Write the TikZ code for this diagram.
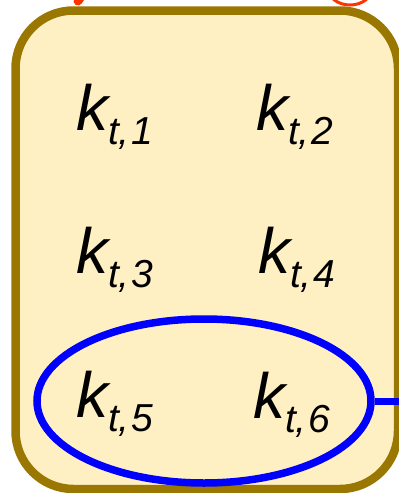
\documentclass[tikz,border=0pt]{standalone}
\usepackage{fontspec}
\setmainfont{Liberation Sans}
\usetikzlibrary{shapes.geometric}
\definecolor{boxfill}{RGB}{255,240,196}
\definecolor{boxline}{RGB}{153,119,0}
\definecolor{myblue}{RGB}{0,0,255}
\definecolor{myred}{RGB}{255,51,0}
\newcommand{\kvar}[1]{{\fontsize{64}{64}\selectfont\itshape k}\raisebox{-14pt}{\fontsize{39}{39}\selectfont\itshape t,\kern1.5pt#1}}
\tikzset{
  kname/.style={anchor=base west, inner sep=0pt, outer sep=0pt},
  box/.style={draw=boxline, fill=boxfill, line width=8.5pt, rounded corners=58pt},
  grp/.style={draw=myblue, line width=7.5pt, ellipse, minimum width=334pt, minimum height=164pt, inner sep=0pt},
  redline/.style={draw=myred, line width=3pt}
}
\begin{document}
\begin{tikzpicture}[x=1pt,y=-1pt]
\useasboundingbox (0,0) rectangle (399,493);
\begin{scope}
\clip (0,0) rectangle (399,493);
\draw[box] (15.5,10.5) rectangle (398,489);
\draw[redline, line width=9pt, line cap=round] (84,-8) -- (78,1);
\draw[redline] (350,-12) ellipse [x radius=22pt, y radius=17pt];
\node[grp] (grp) at (204,401) {};
\coordinate (out) at (402,401);
\draw[draw=myblue, line width=7pt] (grp.east) -- (out);
\end{scope}
\node[kname] (k1) at (76,130) {\kvar{1}};
\node[kname] (k2) at (256,130) {\kvar{2}};
\node[kname] (k3) at (76,273) {\kvar{3}};
\node[kname] (k4) at (258,273) {\kvar{4}};
\node[kname] (k5) at (76,417) {\kvar{5}};
\node[kname] (k6) at (253,418) {\kvar{6}};
\end{tikzpicture}
\end{document}
